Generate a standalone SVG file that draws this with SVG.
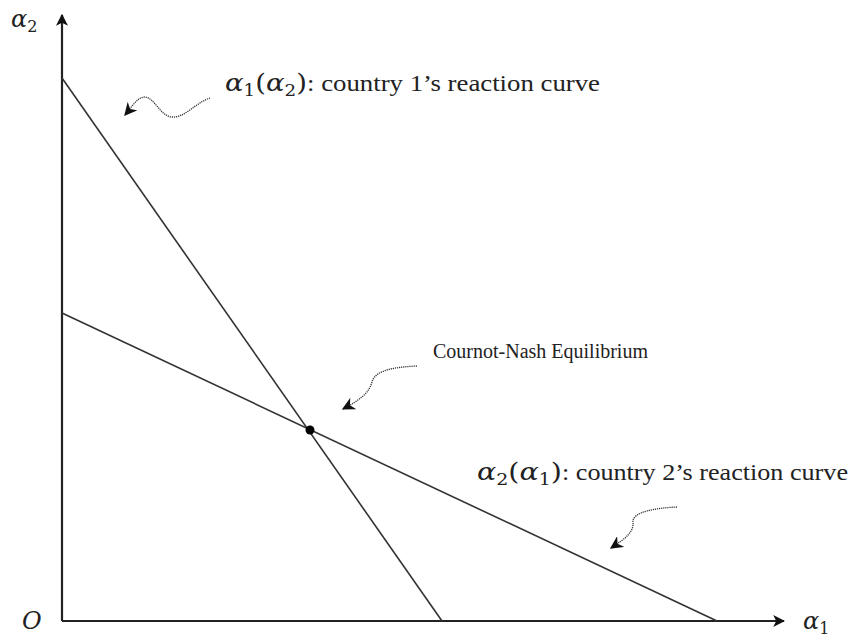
<svg xmlns="http://www.w3.org/2000/svg" width="855" height="637" viewBox="0 0 855 637">
<defs>
<marker id="axhead" viewBox="0 0 10 10" refX="9" refY="5" markerWidth="12" markerHeight="12" markerUnits="userSpaceOnUse" orient="auto">
<path d="M0,0 L10,5 L0,10 L2.5,5 Z" fill="#111"/>
</marker>
<marker id="sqhead" viewBox="0 0 10 10" refX="9" refY="5" markerWidth="13" markerHeight="13" markerUnits="userSpaceOnUse" orient="auto">
<path d="M0,0 L10,5 L0,10 L3,5 Z" fill="#111"/>
</marker>
</defs>
<style>
.axis{stroke:#222;stroke-width:2.2;fill:none}
.curve{stroke:#333;stroke-width:1.6;fill:none}
.sq{stroke:#333;stroke-width:1.3;stroke-dasharray:1.2 0.9;fill:none}
.lbl{font-family:"Liberation Serif","Times New Roman",serif;font-size:20px;fill:#222}
.big{font-size:24px}
.math{font-family:"DejaVu Serif","Liberation Serif",serif;font-style:italic;font-size:24px;fill:#222}
.sub{font-family:"DejaVu Serif","Liberation Serif",serif;font-style:normal;font-size:16px}
</style>
<rect width="855" height="637" fill="#fff"/>
<g id="connectors">
<path class="axis" d="M62,621 V15" marker-end="url(#axhead)"/>
<path class="axis" d="M62,621 H784" marker-end="url(#axhead)"/>
<path class="curve" d="M62,78 L442,621"/>
<path class="curve" d="M62,313 L717,621"/>
<path class="sq" d="M210,98 C195,103 185,118 172,117 C160,116 155,98 145,97 C137,97 131,108 125,115" marker-end="url(#sqhead)"/>
<path class="sq" d="M417,366 C395,367 375,370 372,382 C369,393 360,400 343,409" marker-end="url(#sqhead)"/>
<path class="sq" d="M677,507 C655,508 632,512 633,522 C634,532 626,538 611,548" marker-end="url(#sqhead)"/>
</g>
<g id="equilibrium">
<circle cx="310" cy="430" r="4.5" fill="#000"/>
<text class="lbl" x="433" y="358">Cournot-Nash Equilibrium</text>
</g>
<g id="curve1-label">
<text class="math" x="225" y="91" textLength="82" lengthAdjust="spacingAndGlyphs">α<tspan class="sub" dy="5">1</tspan><tspan dy="-5" font-style="normal">(</tspan>α<tspan class="sub" dy="5">2</tspan><tspan dy="-5" font-style="normal">)</tspan></text>
<text class="lbl big" x="307" y="91" textLength="293" lengthAdjust="spacingAndGlyphs">: country 1’s reaction curve</text>
</g>
<g id="curve2-label">
<text class="math" x="477" y="480" textLength="85" lengthAdjust="spacingAndGlyphs">α<tspan class="sub" dy="5">2</tspan><tspan dy="-5" font-style="normal">(</tspan>α<tspan class="sub" dy="5">1</tspan><tspan dy="-5" font-style="normal">)</tspan></text>
<text class="lbl big" x="562" y="480" textLength="286" lengthAdjust="spacingAndGlyphs">: country 2’s reaction curve</text>
</g>
<g id="axis-labels">
<text class="math" x="11" y="27">α<tspan class="sub" dy="5">2</tspan></text>
<text class="math" x="803" y="629">α<tspan class="sub" dy="5">1</tspan></text>
<text class="math" x="22" y="629">O</text>
</g>
</svg>
